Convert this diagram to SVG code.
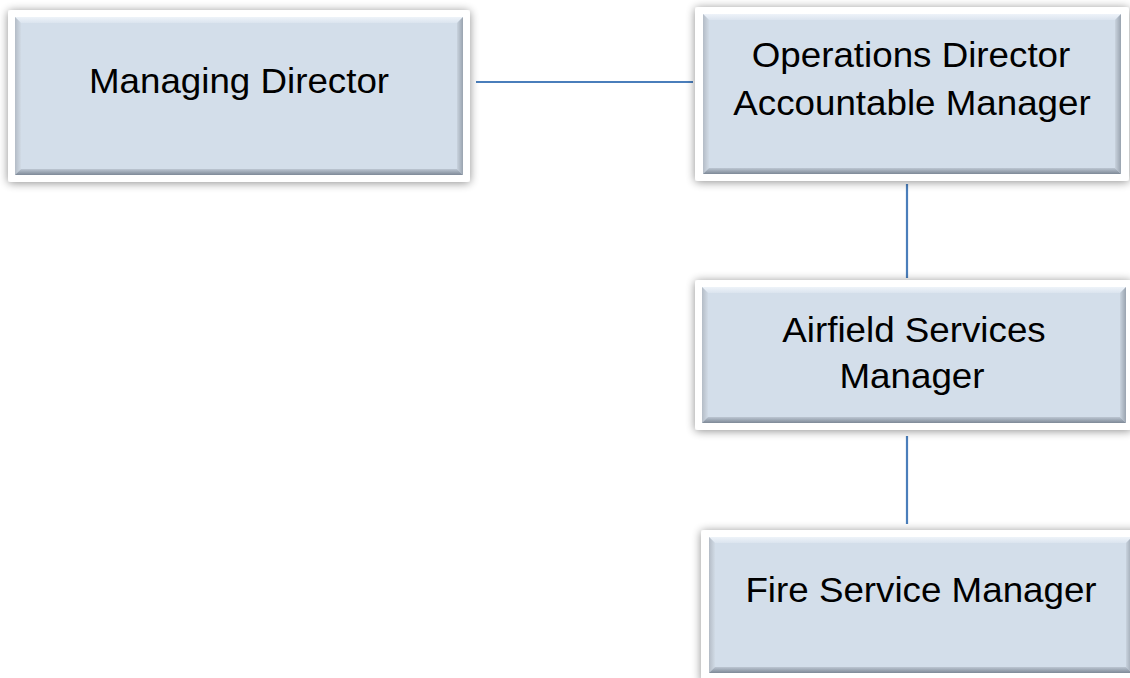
<svg xmlns="http://www.w3.org/2000/svg" width="1130" height="678" viewBox="0 0 1130 678">
  <defs>
    <filter id="glow" x="-10%" y="-20%" width="120%" height="140%">
      <feGaussianBlur in="SourceAlpha" stdDeviation="5"/>
      <feComponentTransfer><feFuncA type="linear" slope="0.45"/></feComponentTransfer>
      <feOffset dx="0" dy="1" result="sh"/>
      <feMerge><feMergeNode in="sh"/><feMergeNode in="SourceGraphic"/></feMerge>
    </filter>
    <linearGradient id="bvTop" x1="0" y1="0" x2="0" y2="1">
      <stop offset="0" stop-color="#eef3f9"/>
      <stop offset="1" stop-color="#dbe4ef"/>
    </linearGradient>
    <linearGradient id="bvLeft" x1="0" y1="0" x2="1" y2="0">
      <stop offset="0" stop-color="#b4bcc6"/>
      <stop offset="1" stop-color="#d1dbe6"/>
    </linearGradient>
    <linearGradient id="bvRight" x1="0" y1="0" x2="1" y2="0">
      <stop offset="0" stop-color="#c9d3de"/>
      <stop offset="1" stop-color="#99a3af"/>
    </linearGradient>
    <linearGradient id="bvBottom" x1="0" y1="0" x2="0" y2="1">
      <stop offset="0" stop-color="#bcc6d2"/>
      <stop offset="1" stop-color="#7e8997"/>
    </linearGradient>
  </defs>
  <style>
    .frame { fill: #ffffff; filter: url(#glow); }
    .face { fill: #d3deea; }
    .bt { fill: url(#bvTop); }
    .bl { fill: url(#bvLeft); }
    .br { fill: url(#bvRight); }
    .bb { fill: url(#bvBottom); }
    .label { font-family: "Liberation Sans", Arial, sans-serif; font-size: 35px; fill: #000000; text-anchor: middle; }
    .link { stroke: #4a7ebb; stroke-width: 2.2; fill: none; }
  </style>

  <rect width="1130" height="678" fill="#ffffff"/>

  <!-- connectors -->
  <g id="connectors">
    <line class="link" x1="476" y1="82" x2="693" y2="82"/>
    <line class="link" x1="907" y1="184" x2="907" y2="278"/>
    <line class="link" x1="907" y1="436" x2="907" y2="524"/>
  </g>

  <!-- Managing Director -->
  <g id="node-managing-director">
    <rect class="frame" x="8" y="10" width="462" height="172" rx="3"/>
    <rect class="face" x="15" y="17" width="448" height="158"/>
    <polygon class="bt" points="15,17 463,17 457,23 21,23"/>
    <polygon class="bl" points="15,17 21,23 21,169 15,175"/>
    <polygon class="br" points="463,17 457,23 457,169 463,175"/>
    <polygon class="bb" points="15,175 463,175 457,169 21,169"/>
    <text class="label" transform="matrix(1.05 0 0 1 239 93)">Managing Director</text>
  </g>

  <!-- Operations Director / Accountable Manager -->
  <g id="node-operations-director">
    <rect class="frame" x="695" y="7" width="434" height="174" rx="3"/>
    <rect class="face" x="703" y="14" width="418" height="160"/>
    <polygon class="bt" points="703,14 1121,14 1115,20 709,20"/>
    <polygon class="bl" points="703,14 709,20 709,168 703,174"/>
    <polygon class="br" points="1121,14 1115,20 1115,168 1121,174"/>
    <polygon class="bb" points="703,174 1121,174 1115,168 709,168"/>
    <text class="label" transform="matrix(1.05 0 0 1 911 67)">Operations Director</text>
    <text class="label" transform="matrix(1.05 0 0 1 912 115)">Accountable Manager</text>
  </g>

  <!-- Airfield Services Manager -->
  <g id="node-airfield-services">
    <rect class="frame" x="695" y="280" width="437" height="150" rx="3"/>
    <rect class="face" x="702" y="287" width="424" height="136"/>
    <polygon class="bt" points="702,287 1126,287 1120,293 708,293"/>
    <polygon class="bl" points="702,287 708,293 708,417 702,423"/>
    <polygon class="br" points="1126,287 1120,293 1120,417 1126,423"/>
    <polygon class="bb" points="702,423 1126,423 1120,417 708,417"/>
    <text class="label" transform="matrix(1.05 0 0 1 914 342)">Airfield Services</text>
    <text class="label" transform="matrix(1.05 0 0 1 912 388)">Manager</text>
  </g>

  <!-- Fire Service Manager -->
  <g id="node-fire-service">
    <rect class="frame" x="701" y="530" width="440" height="152" rx="3"/>
    <rect class="face" x="709" y="537" width="423" height="136"/>
    <polygon class="bt" points="709,537 1132,537 1126,543 715,543"/>
    <polygon class="bl" points="709,537 715,543 715,667 709,673"/>
    <polygon class="br" points="1132,537 1126,543 1126,667 1132,673"/>
    <polygon class="bb" points="709,673 1132,673 1126,667 715,667"/>
    <text class="label" transform="matrix(1.05 0 0 1 921 602)">Fire Service Manager</text>
  </g>
</svg>
